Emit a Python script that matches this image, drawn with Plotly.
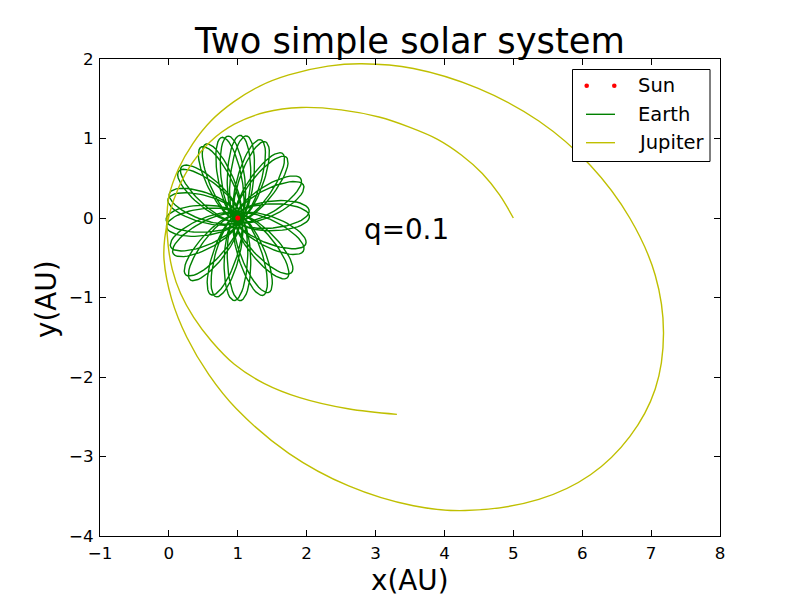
import numpy as np
import plotly.graph_objects as go

# ---- data (AU) ----
sun_x = [1.0]
sun_y = [0.0]

# Earth: direction of each loop's far end (deg from +x, round the Sun).
# every direction is run through twice, the second pass a few degrees on
earth_loop_dir_a = [1, 23, 47, 67, 83, 98, 117, 142, 163, 181, 200, 223, 248, 267, 291, 314, 337]
earth_loop_dir_b = [5, 28, 51, 71, 88, 103, 121, 146, 167, 186, 205, 228, 252, 272, 296, 319, 342]
earth_reach = 1.04        # farthest point of a loop from the Sun
earth_half_width = 0.17   # half width of a loop

# Jupiter, traced from its start at (5, 0)
jupiter_x = [5.00, 4.80, 4.55, 4.25, 3.90, 3.50, 3.05, 2.50, 1.92, 1.40,
             0.95, 0.60, 0.33, 0.14, 0.01, -0.06, -0.07, 0.04, 0.26, 0.58,
             0.98, 1.74, 2.61, 3.55, 4.30, 5.37, 6.12, 6.69, 7.06, 7.18,
             7.06, 6.69, 6.12, 5.37, 4.49, 3.55, 2.80, 2.31, 1.74, 1.32,
             0.94, 0.61, 0.35, 0.14, 0.00, -0.03, -0.01, 0.05, 0.17, 0.36,
             0.62, 0.95, 1.38, 1.90, 2.60, 3.31]
jupiter_y = [0.00, 0.29, 0.56, 0.79, 0.99, 1.14, 1.27, 1.36, 1.39, 1.33,
             1.18, 0.96, 0.68, 0.38, 0.06, -0.25, -0.53, -1.02, -1.50, -1.97,
             -2.40, -2.96, -3.37, -3.62, -3.68, -3.54, -3.23, -2.75, -2.15, -1.45,
             -0.72, 0.00, 0.66, 1.22, 1.63, 1.88, 1.94, 1.91, 1.80, 1.66,
             1.46, 1.22, 0.94, 0.62, 0.27, -0.05, -0.35, -0.65, -0.95, -1.25,
             -1.55, -1.84, -2.08, -2.26, -2.40, -2.47]

FONT = "DejaVu Sans"
W, H = 792, 588   # the page adds an 8px body margin round the figure


def earth_track():
    # each loop is a Kepler ellipse with the Sun in one focus
    r_a = earth_reach
    r_p = earth_half_width ** 2 / r_a
    e = (r_a - r_p) / (r_a + r_p)
    p = r_a * (1 - e)
    nu = np.linspace(0, 2 * np.pi, 240)
    r = p / (1 + e * np.cos(nu))
    xs, ys = [], []
    for pair in zip(earth_loop_dir_a, earth_loop_dir_b):
        for d in pair:
            w = np.radians(d) + np.pi
            xs.extend(sun_x[0] + r * np.cos(nu + w))
            ys.extend(sun_y[0] + r * np.sin(nu + w))
    return xs, ys


ex, ey = earth_track()

fig = go.Figure()
fig.add_trace(go.Scatter(x=ex, y=ey, mode="lines", name="Earth",
                         line=dict(color="#008000", width=1.4)))
fig.add_trace(go.Scatter(x=jupiter_x, y=jupiter_y, mode="lines", name="Jupiter",
                         line=dict(color="#bfbf00", width=1.4, shape="spline", smoothing=1.0)))
fig.add_trace(go.Scatter(x=sun_x, y=sun_y, mode="markers", name="Sun",
                         marker=dict(color="#ff0000", size=5)))

axis_style = dict(showgrid=False, zeroline=False, showline=True, linecolor="black",
                  linewidth=1, mirror="ticks", ticks="inside", ticklen=6,
                  tickcolor="black", dtick=1, ticklabelstandoff=2,
                  tickfont=dict(family=FONT, size=16.7, color="black"))

fig.update_layout(
    width=W, height=H,
    margin=dict(l=92, r=80, t=51, b=60),
    plot_bgcolor="white", paper_bgcolor="white",
    showlegend=False,
    font=dict(family=FONT, color="black"),
    title=dict(text="Two simple solar system", x=0.5, xref="paper", xanchor="center",
               y=1 - 33 / H, yanchor="middle",
               font=dict(family=FONT, size=35.3, color="black")),
    xaxis=dict(range=[-1, 8], **axis_style),
    yaxis=dict(range=[-4, 2], **axis_style),
)


# positions given in page pixels of the reference, turned into plot-area fractions
def px(x):
    return (x - 100) / 620


def py(y):
    return (536 - y) / 477


# axis labels and the note inside the plot
fig.add_annotation(text="x(AU)", xref="paper", yref="paper", x=0.5, y=py(580),
                   showarrow=False, yanchor="middle", font=dict(size=27.8))
fig.add_annotation(text="y(AU)", xref="paper", yref="paper", x=px(46), y=py(299),
                   showarrow=False, textangle=-90, xanchor="center", font=dict(size=27.8))
fig.add_annotation(text="q=0.1", x=2.8, y=-0.15, showarrow=False, xanchor="left",
                   yanchor="middle", font=dict(size=27.8))

# legend drawn by hand so the Sun entry can show two dots
fig.add_shape(type="rect", xref="paper", yref="paper",
              x0=px(572.5), x1=px(710), y0=py(69.5), y1=py(161.5),
              line=dict(color="black", width=1), fillcolor="white", layer="above")
for dx in (586.7, 614.3):
    fig.add_shape(type="circle", xref="paper", yref="paper", xsizemode="pixel", ysizemode="pixel",
                  xanchor=px(dx), yanchor=py(85.7), x0=-2.3, x1=2.3, y0=-2.3, y1=2.3,
                  line=dict(width=0), fillcolor="#ff0000", layer="above")
for yy, col in ((114.3, "#008000"), (142.7, "#bfbf00")):
    fig.add_shape(type="line", xref="paper", yref="paper", x0=px(586), x1=px(615),
                  y0=py(yy), y1=py(yy), line=dict(color=col, width=1.4), layer="above")
for yy, label in ((85.7, "Sun"), (114.3, "Earth"), (142.7, "Jupiter")):
    fig.add_annotation(text=label, xref="paper", yref="paper", x=px(636), y=py(yy),
                       xanchor="left", yanchor="middle", showarrow=False,
                       font=dict(size=19.5))

fig.write_html("out.html")
